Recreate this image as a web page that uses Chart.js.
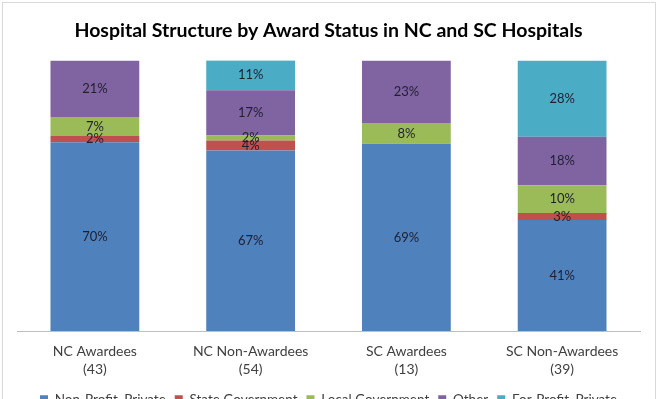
<!DOCTYPE html>
<html>
<head>
  <meta name='viewport' content='width=device-width, initial-scale=1'>
  <script src="https://cdn.jsdelivr.net/npm/chart.js@4/dist/chart.umd.min.js"></script>
  <style>
    html, body { margin: 0; padding: 0; background: #fff; overflow: hidden; }
    #frame { position: absolute; left: 2px; top: 2px; width: 652px; height: 413px; border: 1px solid #d9d9d9; }
  </style>
</head>
<body>
<div id="frame"><canvas id="chart"></canvas></div>
<script>
  // categories: label line 1, line 2 (hospital count)
  const groups = [
    ['NC Awardees', '(43)'],
    ['NC Non-Awardees', '(54)'],
    ['SC Awardees', '(13)'],
    ['SC Non-Awardees', '(39)']
  ];

  // percent of hospitals in each group
  const nonProfitPrivate = [69.8, 66.7, 69.2, 41.0];
  const stateGovernment = [2.3, 3.7, 0, 2.6];
  const localGovernment = [7.0, 1.9, 7.7, 10.3];
  const other = [20.9, 16.7, 23.1, 17.9];
  const forProfitPrivate = [0, 11.1, 0, 28.2];

  const seriesNames = ['Non-Profit, Private', 'State Government', 'Local Government', 'Other', 'For-Profit, Private'];
  const seriesColors = ['#4F81BD', '#C0504D', '#9BBB59', '#8064A2', '#4BACC6'];
  const seriesData = [nonProfitPrivate, stateGovernment, localGovernment, other, forProfitPrivate];

  const fontFamily = 'Lato, "Open Sans", sans-serif';

  // draw the % label in the middle of each segment
  const segmentLabels = {
    id: 'segmentLabels',
    afterDatasetsDraw(chart) {
      const ctx = chart.ctx;
      ctx.save();
      ctx.font = '13px ' + fontFamily;
      ctx.fillStyle = '#1F1F2F';
      ctx.textAlign = 'center';
      ctx.textBaseline = 'middle';
      chart.data.datasets.forEach((ds, i) => {
        const meta = chart.getDatasetMeta(i);
        meta.data.forEach((bar, j) => {
          const v = ds.data[j];
          if (!v) return;
          ctx.fillText(Math.round(v) + '%', bar.x, (bar.y + bar.base) / 2);
        });
      });
      ctx.restore();
    }
  };

  new Chart(document.getElementById('chart').getContext('2d'), {
    type: 'bar',
    data: {
      labels: groups,
      datasets: seriesNames.map((name, i) => ({
        label: name,
        data: seriesData[i],
        backgroundColor: seriesColors[i],
        barPercentage: 0.57,
        categoryPercentage: 1.0
      }))
    },
    options: {
      responsive: true,
      maintainAspectRatio: false,
      animation: false,
      layout: { padding: { left: 14, right: 15, top: 0, bottom: 0 } },
      scales: {
        x: {
          stacked: true,
          grid: { display: false, drawTicks: false },
          border: { color: '#BFBFBF' },
          ticks: { color: '#404040', font: { family: fontFamily, size: 14, lineHeight: 1.3 }, padding: 11 },
          afterFit(scale) { scale.height -= 6; }
        },
        y: {
          stacked: true,
          display: false,
          min: 0,
          max: 100
        }
      },
      plugins: {
        title: {
          display: true,
          text: 'Hospital Structure by Award Status in NC and SC Hospitals',
          color: '#000',
          font: { family: fontFamily, size: 19.5, weight: 'bold' },
          padding: { top: 16, bottom: 18 }
        },
        legend: {
          position: 'bottom',
          labels: {
            color: '#404040',
            font: { family: fontFamily, size: 13.5 },
            boxWidth: 8,
            boxHeight: 8,
            padding: 9
          }
        },
        tooltip: { enabled: false }
      }
    },
    plugins: [segmentLabels]
  });
</script>
</body>
</html>
